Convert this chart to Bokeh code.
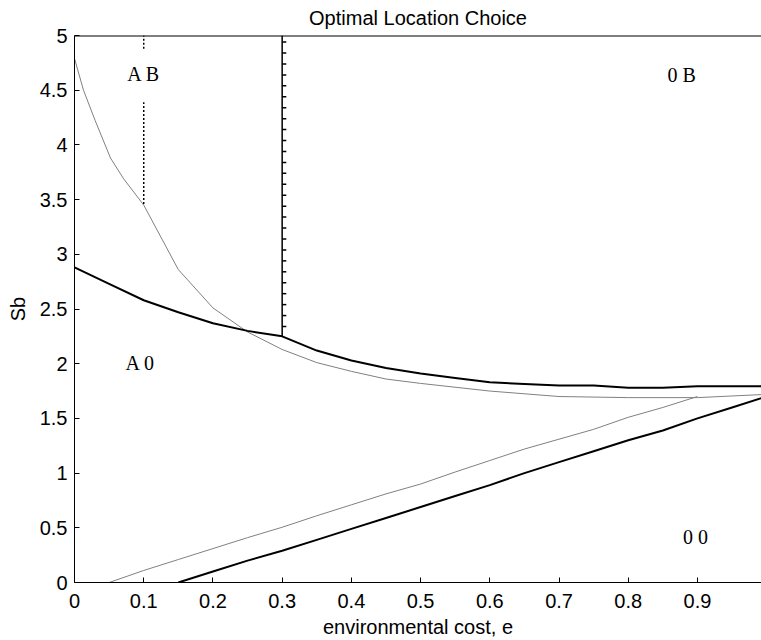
import numpy as np
from bokeh.plotting import figure
from bokeh.models import Range1d, FixedTicker, Span, Title
from bokeh.core.properties import value
from bokeh.embed import file_html
from bokeh.resources import INLINE

# ---- data ----
# black (thick) upper boundary
upper_black_e = [0.0, 0.05, 0.1, 0.15, 0.2, 0.25, 0.3, 0.35, 0.4, 0.45, 0.5, 0.55,
                 0.6, 0.65, 0.7, 0.75, 0.8, 0.85, 0.9, 0.95, 1.0]
upper_black_s = [2.88, 2.73, 2.58, 2.47, 2.37, 2.30, 2.25, 2.12, 2.03, 1.96, 1.91, 1.87,
                 1.83, 1.815, 1.80, 1.80, 1.78, 1.78, 1.795, 1.795, 1.795]

# gray (thin) upper boundary
upper_gray_e = [0.0, 0.013, 0.03, 0.052, 0.071, 0.1, 0.15, 0.2, 0.25, 0.3, 0.35, 0.4,
                0.45, 0.5, 0.6, 0.7, 0.8, 0.9, 1.0]
upper_gray_s = [4.79, 4.50, 4.22, 3.88, 3.69, 3.45, 2.86, 2.51, 2.29, 2.13, 2.01, 1.93,
                1.86, 1.82, 1.75, 1.70, 1.69, 1.69, 1.72]

# gray (thin) lower boundary
lower_gray_e = [0.05, 0.1, 0.15, 0.2, 0.25, 0.3, 0.35, 0.4, 0.45, 0.5, 0.55, 0.6,
                0.65, 0.7, 0.75, 0.8, 0.85, 0.9]
lower_gray_s = [0.0, 0.11, 0.21, 0.31, 0.41, 0.505, 0.61, 0.71, 0.81, 0.90, 1.01, 1.115,
                1.22, 1.31, 1.40, 1.51, 1.60, 1.70]

# black (thick) lower boundary
lower_black_e = [0.15, 0.2, 0.25, 0.3, 0.35, 0.4, 0.45, 0.5, 0.55, 0.6, 0.65, 0.7,
                 0.75, 0.8, 0.85, 0.9, 0.95, 1.0]
lower_black_s = [0.0, 0.10, 0.20, 0.29, 0.39, 0.49, 0.59, 0.69, 0.79, 0.89, 1.00, 1.10,
                 1.20, 1.30, 1.39, 1.50, 1.60, 1.70]

# vertical boundaries
ab_boundary_e = 0.1
ab_segments_s = [(3.46, 4.39), (4.88, 5.0)]
ob_boundary_e = 0.3
ob_boundary_s = (2.25, 5.0)
ob_marker_s = [4.94, 4.84, 4.74, 4.64, 4.54, 4.44, 4.34, 4.24, 4.14, 4.04, 3.94, 3.84,
               3.74, 3.64, 3.54, 3.44, 3.34, 3.24, 3.14, 3.04, 2.94, 2.84, 2.74, 2.64,
               2.54, 2.44, 2.34]

# region labels
region_labels = ["A B", "0 B", "A 0", "0 0"]
region_e = [0.1, 0.877, 0.095, 0.897]
region_s = [4.65, 4.64, 2.01, 0.42]

x_ticks = [0, 0.1, 0.2, 0.3, 0.4, 0.5, 0.6, 0.7, 0.8, 0.9]
y_ticks = [0, 0.5, 1, 1.5, 2, 2.5, 3, 3.5, 4, 4.5, 5]

TITLE = "Optimal Location Choice"
SANS = "Liberation Sans"
SERIF = "Liberation Serif"

p = figure(width=761, height=640, output_backend="svg", toolbar_location=None,
           x_range=Range1d(0, 0.9925), y_range=Range1d(0, 5),
           min_border_left=74, min_border_right=0, min_border_top=35,
           min_border_bottom=58)
p.title = Title(text=TITLE, align="center", vertical_align="top", text_font=SANS,
                text_font_size="20px", text_font_style="normal", text_color="black",
                standoff=10, offset=-4)
p.outline_line_color = None
p.grid.visible = False
p.background_fill_color = "white"
p.border_fill_color = "white"

for ax in (p.xaxis[0], p.yaxis[0]):
    ax.major_tick_in = 5
    ax.major_tick_out = 0
    ax.minor_tick_in = 0
    ax.minor_tick_out = 0
    ax.axis_line_color = "black"
    ax.major_tick_line_color = "black"
    ax.major_label_text_font = SANS
    ax.major_label_text_font_size = "20px"
    ax.major_label_text_color = "black"
    ax.axis_label_text_font = SANS
    ax.axis_label_text_font_size = "20px"
    ax.axis_label_text_font_style = "normal"
    ax.axis_label_text_color = "black"

p.xaxis.ticker = FixedTicker(ticks=x_ticks)
p.yaxis.ticker = FixedTicker(ticks=y_ticks)
p.xaxis.major_label_overrides = {t: ("0" if t == 0 else f"{t:g}") for t in x_ticks}
p.yaxis.major_label_overrides = {t: f"{t:g}" for t in y_ticks}
p.xaxis.axis_label = "environmental cost, e"
p.yaxis.axis_label = "Sb"
p.xaxis.major_label_standoff = 11
p.yaxis.major_label_standoff = 7
p.xaxis.axis_label_standoff = 5
p.yaxis.axis_label_standoff = 8

# top border
p.add_layout(Span(location=5, dimension="width", line_color="black", line_width=2))

# curves
p.line(upper_gray_e, upper_gray_s, line_color="#808080", line_width=1)
p.line(lower_gray_e, lower_gray_s, line_color="#808080", line_width=1)
p.line(upper_black_e, upper_black_s, line_color="black", line_width=2)
p.line(lower_black_e, lower_black_s, line_color="black", line_width=2)

# vertical boundaries
for s0, s1 in ab_segments_s:
    p.line([ab_boundary_e, ab_boundary_e], [s0, s1], line_color="black",
           line_width=1.5, line_dash="2 2")
p.line([ob_boundary_e, ob_boundary_e], list(ob_boundary_s), line_color="black",
       line_width=1.5)
tick_len = 0.006
p.segment(x0=[ob_boundary_e] * len(ob_marker_s), y0=ob_marker_s,
          x1=[ob_boundary_e + tick_len] * len(ob_marker_s), y1=ob_marker_s,
          line_color="black", line_width=1.5)

# region labels
p.text(x=region_e, y=region_s, text=region_labels, text_font=value(SERIF),
       text_font_size="20px", text_align="center", text_baseline="middle",
       text_color="black")

open("out.html", "w").write(file_html(p, INLINE))
